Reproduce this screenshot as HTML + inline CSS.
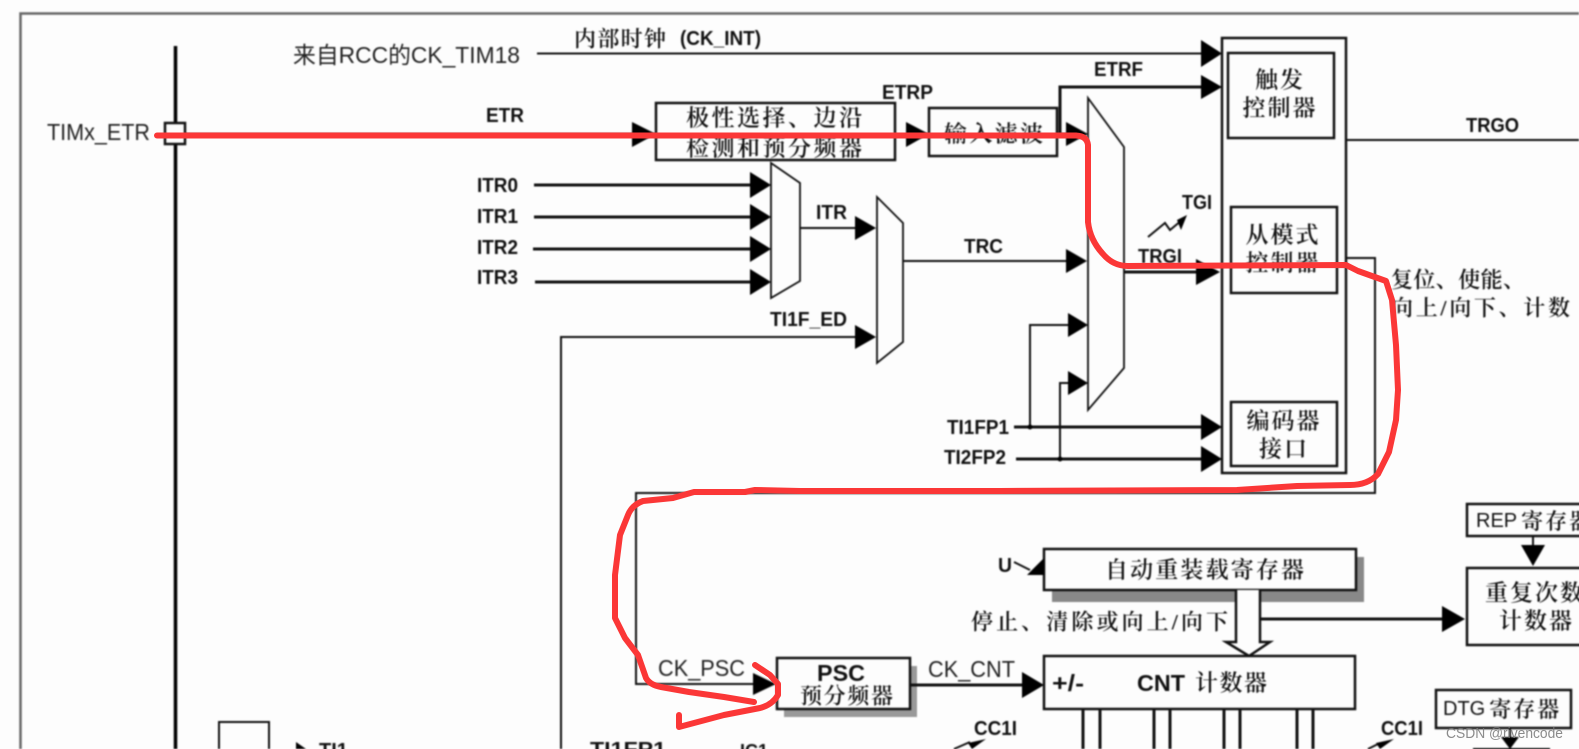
<!DOCTYPE html>
<html><head><meta charset="utf-8">
<style>
html,body{margin:0;padding:0;background:#fdfdfd;width:1579px;height:749px;overflow:hidden}
svg{display:block;position:absolute;left:0;top:0}
#d{filter:blur(0.7px)}
.s{font-family:"Liberation Sans",sans-serif;fill:#222}
.b{font-family:"Liberation Sans",sans-serif;font-weight:bold;fill:#111}
.c{font-family:"Liberation Serif","Noto Serif CJK SC",serif;fill:#111;font-weight:600}
.l{stroke:#111;fill:none;stroke-width:2}
.t{stroke:#111;fill:none;stroke-width:3}
.bx{stroke:#111;fill:#fdfdfd;stroke-width:2.5}
.a{fill:#000}
</style></head><body>
<svg width="1579" height="749" viewBox="0 0 1579 749" xmlns="http://www.w3.org/2000/svg">
<g id="d" dominant-baseline="central">
<!-- frame -->
<path d="M20.5 749V13.5H1579" stroke="#666" stroke-width="2.5" fill="none"/>
<!-- bus -->
<path d="M175.5 46V749" stroke="#000" stroke-width="3.5"/>
<rect x="165" y="123" width="20" height="21" class="bx"/>
<text class="s" x="47" y="132" font-size="23" textLength="103" lengthAdjust="spacingAndGlyphs" dominant-baseline="central">TIMx_ETR</text>

<text x="293" y="55" font-size="23" textLength="227" lengthAdjust="spacingAndGlyphs" dominant-baseline="central" font-family="Liberation Sans,Noto Sans CJK SC,sans-serif" fill="#222">来自RCC的CK_TIM18</text>
<path class="l" d="M537 53.5H1201"/>
<polygon class="a" points="1201,40 1222,53.5 1201,67"/>
<text class="c" x="574" y="39" font-size="22" textLength="92" lengthAdjust="spacing" dominant-baseline="central">内部时钟</text>
<text class="b" x="680" y="39" font-size="20" textLength="81" lengthAdjust="spacingAndGlyphs" dominant-baseline="central">(CK_INT)</text>

<text class="b" x="486" y="116" font-size="20" textLength="38" lengthAdjust="spacingAndGlyphs" dominant-baseline="central">ETR</text>
<path class="l" d="M185 134H632"/>
<polygon class="a" points="632,122 656,134 632,147"/>
<rect x="656" y="103" width="239" height="57" class="bx"/>
<text class="c" x="686" y="118" font-size="23" textLength="176" lengthAdjust="spacing" dominant-baseline="central">极性选择、边沿</text>
<text class="c" x="686" y="148" font-size="23" textLength="176" lengthAdjust="spacing" dominant-baseline="central">检测和预分频器</text>
<polygon class="a" points="906,122 929,134 906,147"/>
<text class="b" x="882" y="93" font-size="20" textLength="51" lengthAdjust="spacingAndGlyphs" dominant-baseline="central">ETRP</text>
<rect x="929" y="108" width="128" height="48" class="bx"/>
<text class="c" x="944" y="134" font-size="23" textLength="99" lengthAdjust="spacing" dominant-baseline="central">输入滤波</text>
<path class="l" d="M1057 134H1066"/>
<polygon class="a" points="1066,122 1088,134 1066,146"/>
<path class="t" d="M1060 134V87H1201"/>
<polygon class="a" points="1201,75 1222,87 1201,99"/>
<text class="b" x="1094" y="70" font-size="20" textLength="49" lengthAdjust="spacingAndGlyphs" dominant-baseline="central">ETRF</text>

<!-- muxes -->
<polygon points="771,163 800,183 800,281 771,298" fill="#fdfdfd" stroke="#111" stroke-width="1.8"/>
<polygon points="877,197 903,223 903,342 877,363" fill="#fdfdfd" stroke="#111" stroke-width="1.8"/>
<polygon points="1088,98 1124,147 1124,368 1088,410" fill="#fdfdfd" stroke="#111" stroke-width="1.8"/>

<text class="b" x="477" y="186" font-size="20" textLength="41" lengthAdjust="spacingAndGlyphs" dominant-baseline="central">ITR0</text>
<text class="b" x="477" y="217" font-size="20" textLength="41" lengthAdjust="spacingAndGlyphs" dominant-baseline="central">ITR1</text>
<text class="b" x="477" y="248" font-size="20" textLength="41" lengthAdjust="spacingAndGlyphs" dominant-baseline="central">ITR2</text>
<text class="b" x="477" y="278" font-size="20" textLength="41" lengthAdjust="spacingAndGlyphs" dominant-baseline="central">ITR3</text>
<path class="t" d="M534 185H750M534 217H750M533 249H750M535 282H750"/>
<polygon class="a" points="750,172 771,185 750,198"/>
<polygon class="a" points="750,204 771,217 750,230"/>
<polygon class="a" points="750,236 771,249 750,262"/>
<polygon class="a" points="750,269 771,282 750,295"/>
<path class="l" d="M800 228H855"/>
<polygon class="a" points="855,216 876,228 855,240"/>
<text class="b" x="816" y="213" font-size="20" textLength="31" lengthAdjust="spacingAndGlyphs" dominant-baseline="central">ITR</text>
<text class="b" x="770" y="320" font-size="20" textLength="77" lengthAdjust="spacingAndGlyphs" dominant-baseline="central">TI1F_ED</text>
<path class="l" d="M561 749V337H855"/>
<polygon class="a" points="855,325 876,337 855,349"/>
<path class="l" d="M903 261H1066"/>
<polygon class="a" points="1066,249 1087,261 1066,273"/>
<text class="b" x="964" y="247" font-size="20" textLength="39" lengthAdjust="spacingAndGlyphs" dominant-baseline="central">TRC</text>

<text class="b" x="1182" y="203" font-size="20" textLength="30" lengthAdjust="spacingAndGlyphs" dominant-baseline="central">TGI</text>
<path class="l" d="M1148 237L1165 223L1170 230L1182 220"/>
<polygon class="a" points="1187,215 1177,220 1181,230"/>
<text class="b" x="1138" y="257" font-size="20" textLength="44" lengthAdjust="spacingAndGlyphs" dominant-baseline="central">TRGI</text>
<path class="t" d="M1124 272H1196"/>
<polygon class="a" points="1196,259 1220,272 1196,285"/>

<!-- outer feedback line -->
<path class="l" d="M1346 258H1375V493H636V684H753"/>
<polygon class="a" points="753,673 776,684 753,695"/>

<!-- main block -->
<rect x="1222" y="38" width="124" height="435" fill="#fdfdfd" stroke="#111" stroke-width="2.5"/>
<rect x="1228" y="53" width="106" height="85" class="bx"/>
<rect x="1231" y="207" width="106" height="86" class="bx"/>
<rect x="1231" y="402" width="106" height="64" class="bx"/>
<text class="c" x="1280" y="80" font-size="23" text-anchor="middle" letter-spacing="2" dominant-baseline="central">触发</text>
<text class="c" x="1280" y="108" font-size="23" text-anchor="middle" letter-spacing="2" dominant-baseline="central">控制器</text>
<text class="c" x="1283" y="235" font-size="23" text-anchor="middle" letter-spacing="2" dominant-baseline="central">从模式</text>
<text class="c" x="1283" y="263" font-size="23" text-anchor="middle" letter-spacing="2" dominant-baseline="central">控制器</text>
<text class="c" x="1284" y="421" font-size="23" text-anchor="middle" letter-spacing="2" dominant-baseline="central">编码器</text>
<text class="c" x="1284" y="449" font-size="23" text-anchor="middle" letter-spacing="2" dominant-baseline="central">接口</text>
<path class="l" d="M1346 140H1579"/>
<text class="b" x="1466" y="126" font-size="20" textLength="53" lengthAdjust="spacingAndGlyphs" dominant-baseline="central">TRGO</text>
<text class="c" x="1391" y="280" font-size="22" textLength="134" lengthAdjust="spacing" dominant-baseline="central">复位、使能、</text>
<text class="c" x="1391" y="308" font-size="22" textLength="179" lengthAdjust="spacing" dominant-baseline="central">向上/向下、计数</text>

<!-- TI lines -->
<path class="l" d="M1068 325H1030V427"/>
<polygon class="a" points="1068,313 1088,325 1068,337"/>
<path class="l" d="M1068 383H1060V459"/>
<polygon class="a" points="1068,371 1088,383 1068,395"/>
<path class="t" d="M1014 427H1201M1016 459H1201"/>
<polygon class="a" points="1201,414 1222,427 1201,440"/>
<polygon class="a" points="1201,446 1222,459 1201,472"/>
<circle class="a" cx="1030" cy="427" r="2.5"/><circle class="a" cx="1060" cy="459" r="2.5"/>
<text class="b" x="947" y="428" font-size="20" textLength="62" lengthAdjust="spacingAndGlyphs" dominant-baseline="central">TI1FP1</text>
<text class="b" x="944" y="458" font-size="20" textLength="62" lengthAdjust="spacingAndGlyphs" dominant-baseline="central">TI2FP2</text>

<!-- auto reload -->
<rect x="1052" y="557" width="312" height="45" fill="#888"/>
<rect x="1044" y="549" width="312" height="41" class="bx"/>
<text class="c" x="1105" y="570" font-size="23" textLength="199" lengthAdjust="spacing" dominant-baseline="central">自动重装载寄存器</text>
<text class="b" x="998" y="566" font-size="20" textLength="14" lengthAdjust="spacingAndGlyphs" dominant-baseline="central">U</text>
<path class="l" d="M1014 562L1030 570" stroke-width="1.500"/>
<polygon class="a" points="1044,558 1044,575 1027,575"/>
<path d="M1236 590V642H1226L1249 656L1270 642H1260V590" fill="#fdfdfd" stroke="#111" stroke-width="2.5"/>
<text class="c" x="971" y="622" font-size="22" textLength="257" lengthAdjust="spacing" dominant-baseline="central">停止、清除或向上/向下</text>
<path class="t" d="M1260 619H1442"/>
<polygon class="a" points="1442,606 1465,619 1442,632"/>

<!-- REP -->
<rect x="1467" y="504" width="130" height="32" fill="#fdfdfd" stroke="#111" stroke-width="2.5"/>
<text class="c" x="1476" y="521" font-size="22" dominant-baseline="central"><tspan font-family="Liberation Sans,sans-serif" font-size="20" font-weight="normal">REP</tspan><tspan letter-spacing="2" dx="4">寄存器</tspan></text>
<path class="l" d="M1533 536V546"/>
<polygon class="a" points="1521,545 1545,545 1533,566"/>
<rect x="1467" y="568" width="130" height="77" fill="#fdfdfd" stroke="#111" stroke-width="2.5"/>
<text class="c" x="1485" y="593" font-size="23" letter-spacing="2" dominant-baseline="central">重复次数</text>
<text class="c" x="1499" y="621" font-size="23" letter-spacing="2" dominant-baseline="central">计数器</text>

<!-- PSC -->
<rect x="784" y="666" width="133" height="51" fill="#999"/>
<rect x="777" y="658" width="133" height="51" class="bx"/>
<text class="b" x="817" y="673" font-size="23" textLength="48" lengthAdjust="spacingAndGlyphs" dominant-baseline="central">PSC</text>
<text class="c" x="800" y="696" font-size="22" textLength="93" lengthAdjust="spacing" dominant-baseline="central">预分频器</text>
<text class="s" x="658" y="668" font-size="23" textLength="87" lengthAdjust="spacingAndGlyphs" dominant-baseline="central">CK_PSC</text>
<text class="s" x="928" y="669" font-size="23" textLength="87" lengthAdjust="spacingAndGlyphs" dominant-baseline="central">CK_CNT</text>
<path class="t" d="M910 685H1022"/>
<polygon class="a" points="1022,672 1044,685 1022,698"/>

<!-- CNT -->
<rect x="1044" y="656" width="311" height="53" class="bx"/>
<text class="b" x="1052" y="683" font-size="23" textLength="32" lengthAdjust="spacingAndGlyphs" dominant-baseline="central">+/-</text>
<text class="b" x="1137" y="683" font-size="23" textLength="48" lengthAdjust="spacingAndGlyphs" dominant-baseline="central">CNT</text>
<text class="c" x="1195" y="683" font-size="23" textLength="72" lengthAdjust="spacing" dominant-baseline="central">计数器</text>
<path class="t" d="M1083 709V749M1100 709V749M1154 709V749M1170 709V749M1224 709V749M1240 709V749M1297 709V749M1313 709V749" stroke-width="2.5"/>

<text class="b" x="974" y="729" font-size="20" textLength="43" lengthAdjust="spacingAndGlyphs" dominant-baseline="central">CC1I</text>
<text class="b" x="1381" y="729" font-size="20" textLength="42" lengthAdjust="spacingAndGlyphs" dominant-baseline="central">CC1I</text>
<path class="l" d="M954 749L970 742"/><polygon class="a" points="986,739 968,743 972,749"/>
<path class="l" d="M1368 749L1378 744"/><polygon class="a" points="1394,739 1376,743 1380,749"/>

<!-- DTG -->
<rect x="1436" y="690" width="135" height="38" class="bx"/>
<text class="c" x="1443" y="709" font-size="22" dominant-baseline="central"><tspan font-family="Liberation Sans,sans-serif" font-size="20" font-weight="normal">DTG</tspan><tspan letter-spacing="2" dx="4">寄存器</tspan></text>
<path class="l" d="M1510 728V738"/>
<polygon class="a" points="1501,737 1519,737 1510,749"/>
<path class="l" d="M1473 749H1550"/>

<!-- TI1 -->
<path class="l" d="M219 749V722H269V749" stroke-width="2.5"/>
<polygon class="a" points="296,742 306,749 296,749"/>
<text class="b" x="319" y="751" font-size="20" dominant-baseline="central">TI1</text>
<text class="b" x="590" y="750" font-size="20" textLength="76" lengthAdjust="spacingAndGlyphs" dominant-baseline="central">TI1FP1</text>
<text class="b" x="740" y="751" font-size="18" dominant-baseline="central">IC1</text>
</g>

<!-- red annotation -->
<path fill="none" stroke="#fb3737" stroke-width="6" stroke-linecap="round" stroke-linejoin="round" d="M157 135.500H1076Q1087 136 1088 145L1088 222Q1090 240 1103 254Q1113 266 1128 266L1346 265L1358 271L1386 281L1392 300L1396 345L1398 390L1396 420L1389 452L1378 474Q1368 485 1350 485L1297 486L1237 490L1000 491L800 491L755 490L745 492L694 492L673 498L643 501Q632 505 628 515L620 535L615 575L615 618L625 638L638 655L646 678Q650 685 661 687L689 692L724 697L754 702"/>
<path fill="none" stroke="#fb3737" stroke-width="6" stroke-linecap="round" stroke-linejoin="round" d="M755 665L770 675L778 684L778 695Q772 705 760 708L724 715L679 727L679 715"/>

<!-- watermark -->
<text x="1446" y="734" font-size="14.500" textLength="117" lengthAdjust="spacingAndGlyphs" font-family="Liberation Sans,sans-serif" fill="#777" fill-opacity="0.85" dominant-baseline="central">CSDN @rivencode</text>
</svg>
</body></html>
